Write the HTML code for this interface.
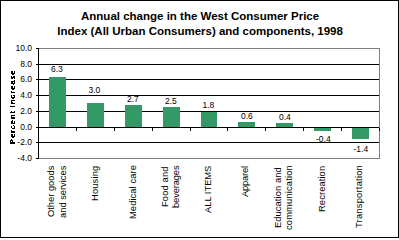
<!DOCTYPE html>
<html><head><meta charset="utf-8"><style>
html,body{margin:0;padding:0;background:#fff;}
body{width:399px;height:238px;position:relative;overflow:hidden;color:#000;}
</style></head><body>
<svg width="399" height="238" style="position:absolute;left:0;top:0" shape-rendering="crispEdges"><defs><filter id="c2"><feComponentTransfer><feFuncA type="discrete" tableValues="0 1"/></feComponentTransfer></filter><filter id="c3"><feComponentTransfer><feFuncA type="discrete" tableValues="0 1 1"/></feComponentTransfer></filter></defs><rect x="0" y="0" width="399" height="1" fill="#000"/><rect x="0" y="237" width="399" height="1" fill="#000"/><rect x="0" y="0" width="1" height="238" fill="#000"/><rect x="398" y="0" width="1" height="238" fill="#000"/><rect x="38" y="48" width="342" height="1" fill="#808080"/><rect x="38" y="158" width="342" height="1" fill="#808080"/><rect x="379" y="48" width="1" height="111" fill="#808080"/><rect x="39" y="64" width="340" height="1" fill="#000"/><rect x="39" y="79" width="340" height="1" fill="#000"/><rect x="39" y="95" width="340" height="1" fill="#000"/><rect x="39" y="111" width="340" height="1" fill="#000"/><rect x="39" y="142" width="340" height="1" fill="#000"/><rect x="49" y="77" width="17" height="50" fill="#339966"/><rect x="87" y="103" width="17" height="24" fill="#339966"/><rect x="125" y="105" width="17" height="22" fill="#339966"/><rect x="163" y="107" width="17" height="20" fill="#339966"/><rect x="201" y="112" width="16" height="15" fill="#339966"/><rect x="238" y="122" width="17" height="5" fill="#339966"/><rect x="276" y="123" width="17" height="4" fill="#339966"/><rect x="314" y="128" width="17" height="3" fill="#339966"/><rect x="352" y="128" width="17" height="11" fill="#339966"/><rect x="38" y="127" width="341" height="1" fill="#000"/><rect x="38" y="48" width="1" height="111" fill="#000"/><rect x="36" y="48" width="2" height="1" fill="#000"/><rect x="36" y="64" width="2" height="1" fill="#000"/><rect x="36" y="79" width="2" height="1" fill="#000"/><rect x="36" y="95" width="2" height="1" fill="#000"/><rect x="36" y="111" width="2" height="1" fill="#000"/><rect x="36" y="127" width="2" height="1" fill="#000"/><rect x="36" y="142" width="2" height="1" fill="#000"/><rect x="36" y="158" width="2" height="1" fill="#000"/><rect x="76" y="128" width="1" height="3" fill="#000"/><rect x="114" y="128" width="1" height="3" fill="#000"/><rect x="152" y="128" width="1" height="3" fill="#000"/><rect x="190" y="128" width="1" height="3" fill="#000"/><rect x="227" y="128" width="1" height="3" fill="#000"/><rect x="265" y="128" width="1" height="3" fill="#000"/><rect x="303" y="128" width="1" height="3" fill="#000"/><rect x="341" y="128" width="1" height="3" fill="#000"/><rect x="379" y="128" width="1" height="3" fill="#000"/></svg>
<div style="position:absolute;left:0.6px;width:399px;top:9px;text-align:center;font:bold 11.5px/15px 'Liberation Sans', sans-serif;letter-spacing:0px">Annual change in the West Consumer Price<br>Index (All Urban Consumers) and components, 1998</div><div style="position:absolute;right:367px;top:43px;font:8.5px/10px 'Liberation Sans', sans-serif;white-space:nowrap">10.0</div><div style="position:absolute;right:367px;top:59px;font:8.5px/10px 'Liberation Sans', sans-serif;white-space:nowrap">8.0</div><div style="position:absolute;right:367px;top:74px;font:8.5px/10px 'Liberation Sans', sans-serif;white-space:nowrap">6.0</div><div style="position:absolute;right:367px;top:90px;font:8.5px/10px 'Liberation Sans', sans-serif;white-space:nowrap">4.0</div><div style="position:absolute;right:367px;top:106px;font:8.5px/10px 'Liberation Sans', sans-serif;white-space:nowrap">2.0</div><div style="position:absolute;right:367px;top:122px;font:8.5px/10px 'Liberation Sans', sans-serif;white-space:nowrap">0.0</div><div style="position:absolute;right:367px;top:137px;font:8.5px/10px 'Liberation Sans', sans-serif;white-space:nowrap">-2.0</div><div style="position:absolute;right:367px;top:153px;font:8.5px/10px 'Liberation Sans', sans-serif;white-space:nowrap">-4.0</div><div style="position:absolute;left:6.5px;top:144px;font:bold 7.6px/11px 'Liberation Sans', sans-serif;letter-spacing:0.85px;white-space:nowrap;transform:rotate(-90deg);transform-origin:0 0;filter:url(#c3)">Percent increase</div><div style="position:absolute;left:51px;top:64px;font:8.5px/10px 'Liberation Sans', sans-serif;white-space:nowrap">6.3</div><div style="position:absolute;left:88.5px;top:85px;font:8.5px/10px 'Liberation Sans', sans-serif;white-space:nowrap">3.0</div><div style="position:absolute;left:127px;top:94px;font:8.5px/10px 'Liberation Sans', sans-serif;white-space:nowrap">2.7</div><div style="position:absolute;left:165px;top:96px;font:8.5px/10px 'Liberation Sans', sans-serif;white-space:nowrap">2.5</div><div style="position:absolute;left:202.5px;top:100px;font:8.5px/10px 'Liberation Sans', sans-serif;white-space:nowrap">1.8</div><div style="position:absolute;left:241px;top:111px;font:8.5px/10px 'Liberation Sans', sans-serif;white-space:nowrap">0.6</div><div style="position:absolute;left:279px;top:112px;font:8.5px/10px 'Liberation Sans', sans-serif;white-space:nowrap">0.4</div><div style="position:absolute;left:316px;top:134px;font:8.5px/10px 'Liberation Sans', sans-serif;white-space:nowrap">-0.4</div><div style="position:absolute;left:353.5px;top:144px;font:8.5px/10px 'Liberation Sans', sans-serif;white-space:nowrap">-1.4</div><div style="position:absolute;left:45.0px;top:217.0px;transform:rotate(-90deg);transform-origin:0 0;font:9.33px/12px 'Liberation Sans', sans-serif;letter-spacing:0.0px;white-space:nowrap">Other goods</div><div style="position:absolute;left:57.0px;top:218.0px;transform:rotate(-90deg);transform-origin:0 0;font:9.33px/12px 'Liberation Sans', sans-serif;letter-spacing:0.0px;white-space:nowrap">and services</div><div style="position:absolute;left:89.0px;top:201.0px;transform:rotate(-90deg);transform-origin:0 0;font:9.33px/12px 'Liberation Sans', sans-serif;letter-spacing:0.167px;white-space:nowrap">Housing</div><div style="position:absolute;left:127.0px;top:219.0px;transform:rotate(-90deg);transform-origin:0 0;font:9.33px/12px 'Liberation Sans', sans-serif;letter-spacing:0.091px;white-space:nowrap">Medical care</div><div style="position:absolute;left:159.0px;top:207.0px;transform:rotate(-90deg);transform-origin:0 0;font:9.33px/12px 'Liberation Sans', sans-serif;letter-spacing:0.143px;white-space:nowrap">Food and</div><div style="position:absolute;left:170.0px;top:208.0px;transform:rotate(-90deg);transform-origin:0 0;font:9.33px/12px 'Liberation Sans', sans-serif;letter-spacing:-0.125px;white-space:nowrap">beverages</div><div style="position:absolute;left:202.0px;top:213.0px;transform:rotate(-90deg);transform-origin:0 0;font:9.33px/12px 'Liberation Sans', sans-serif;letter-spacing:0.0px;white-space:nowrap">ALL ITEMS</div><div style="position:absolute;left:239.0px;top:197.0px;transform:rotate(-90deg);transform-origin:0 0;font:9.33px/12px 'Liberation Sans', sans-serif;letter-spacing:-0.167px;white-space:nowrap">Apparel</div><div style="position:absolute;left:272.0px;top:228.0px;transform:rotate(-90deg);transform-origin:0 0;font:9.33px/12px 'Liberation Sans', sans-serif;letter-spacing:0.083px;white-space:nowrap">Education and</div><div style="position:absolute;left:283.0px;top:230.0px;transform:rotate(-90deg);transform-origin:0 0;font:9.33px/12px 'Liberation Sans', sans-serif;letter-spacing:0.167px;white-space:nowrap">communication</div><div style="position:absolute;left:316.0px;top:212.0px;transform:rotate(-90deg);transform-origin:0 0;font:9.33px/12px 'Liberation Sans', sans-serif;letter-spacing:0.111px;white-space:nowrap">Recreation</div><div style="position:absolute;left:353.0px;top:228.0px;transform:rotate(-90deg);transform-origin:0 0;font:9.33px/12px 'Liberation Sans', sans-serif;letter-spacing:0.231px;white-space:nowrap">Transportation</div>
</body></html>
